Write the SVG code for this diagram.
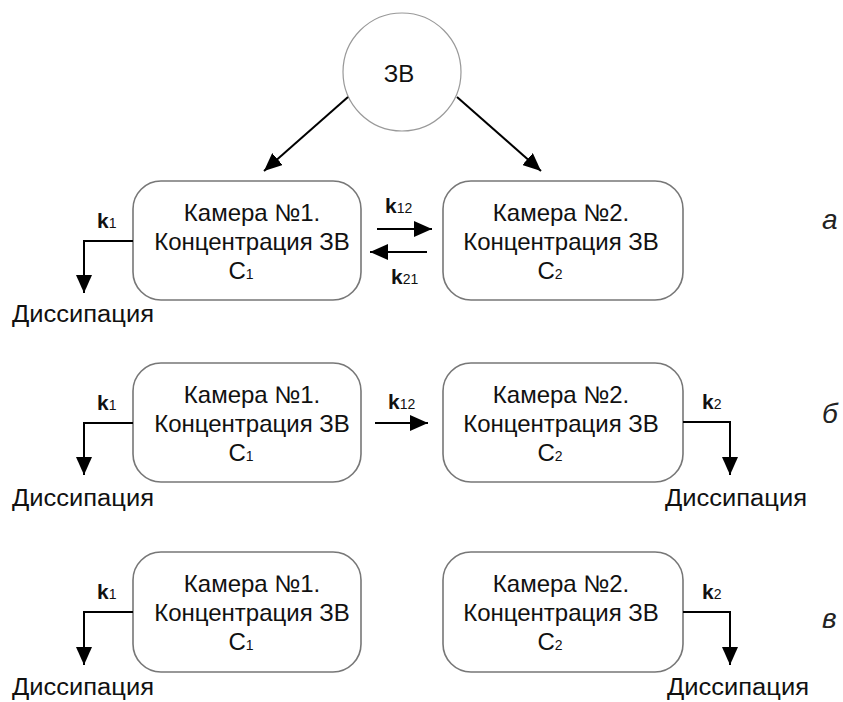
<svg xmlns="http://www.w3.org/2000/svg" width="843" height="702" viewBox="0 0 843 702">
<defs>
<marker id="ah" viewBox="0 0 18 16" refX="18" refY="8" markerWidth="18" markerHeight="16" markerUnits="userSpaceOnUse" orient="auto"><path d="M0,0 L18,8 L0,16 z" fill="#000"/></marker>
</defs>
<style>
.box{fill:#fff;stroke:#777;stroke-width:1.6}
.circ{fill:#fff;stroke:#999;stroke-width:1.2}
.t{font-family:"Liberation Sans",Arial,sans-serif;font-size:24px;fill:#111;text-anchor:middle}
.k{font-family:"Liberation Sans",Arial,sans-serif;font-size:21px;font-weight:bold;fill:#111}
.sub{font-size:14px;font-weight:normal}
.d{font-family:"Liberation Sans",Arial,sans-serif;font-size:23px;fill:#111}
.lab{font-family:"Liberation Sans",Arial,sans-serif;font-size:28px;font-style:italic;fill:#222}
.c{fill:none;stroke:#000;stroke-width:2;marker-end:url(#ah)}
</style>
<rect width="843" height="702" fill="#fff"/>
<g id="zv"><circle class="circ" cx="402" cy="72" r="59"/><text class="t" x="399" y="82" font-size="23">ЗВ</text></g>
<g id="a-cam1"><rect class="box" x="133" y="181" width="228" height="119" rx="28"/>
<text class="t" x="252" y="221">Камера №1.</text><text class="t" x="252" y="250">Концентрация ЗВ</text><text class="t" x="241" y="279">C<tspan class="sub" font-size="15">1</tspan></text></g>
<g id="a-cam2"><rect class="box" x="443" y="181" width="240" height="119" rx="28"/>
<text class="t" x="561" y="221">Камера №2.</text><text class="t" x="561" y="250">Концентрация ЗВ</text><text class="t" x="550" y="279">C<tspan class="sub" font-size="15">2</tspan></text></g>
<g id="b-cam1"><rect class="box" x="133" y="363" width="228" height="119" rx="28"/>
<text class="t" x="252" y="403">Камера №1.</text><text class="t" x="252" y="432">Концентрация ЗВ</text><text class="t" x="241" y="461">C<tspan class="sub" font-size="15">1</tspan></text></g>
<g id="b-cam2"><rect class="box" x="443" y="363" width="240" height="119" rx="28"/>
<text class="t" x="561" y="403">Камера №2.</text><text class="t" x="561" y="432">Концентрация ЗВ</text><text class="t" x="550" y="461">C<tspan class="sub" font-size="15">2</tspan></text></g>
<g id="c-cam1"><rect class="box" x="133" y="552" width="228" height="120" rx="28"/>
<text class="t" x="252" y="592">Камера №1.</text><text class="t" x="252" y="621">Концентрация ЗВ</text><text class="t" x="241" y="650">C<tspan class="sub" font-size="15">1</tspan></text></g>
<g id="c-cam2"><rect class="box" x="443" y="552" width="240" height="120" rx="28"/>
<text class="t" x="561" y="592">Камера №2.</text><text class="t" x="561" y="621">Концентрация ЗВ</text><text class="t" x="550" y="650">C<tspan class="sub" font-size="15">2</tspan></text></g>
<g id="connectors">
<line class="c" x1="348" y1="97" x2="264" y2="171"/>
<line class="c" x1="457" y1="97" x2="541" y2="171"/>
<line class="c" x1="377" y1="229" x2="432" y2="229"/>
<line class="c" x1="427" y1="252" x2="370" y2="252"/>
<polyline class="c" points="133,241 84,241 84,293"/>
<line class="c" x1="375" y1="423" x2="428" y2="423"/>
<polyline class="c" points="133,423 84,423 84,475"/>
<polyline class="c" points="683,422 730,422 730,475"/>
<polyline class="c" points="133,612 84,612 84,665"/>
<polyline class="c" points="683,612 730,612 730,665"/>
</g>
<g id="labels">
<text class="k" x="385" y="213">k<tspan class="sub">12</tspan></text>
<text class="k" x="391" y="284">k<tspan class="sub">21</tspan></text>
<text class="k" x="97" y="228">k<tspan class="sub">1</tspan></text>
<text class="k" x="388" y="409">k<tspan class="sub">12</tspan></text>
<text class="k" x="97" y="410">k<tspan class="sub">1</tspan></text>
<text class="k" x="702" y="409">k<tspan class="sub">2</tspan></text>
<text class="k" x="97" y="599">k<tspan class="sub">1</tspan></text>
<text class="k" x="702" y="599">k<tspan class="sub">2</tspan></text>
<text class="d" x="12" y="322" textLength="142" lengthAdjust="spacingAndGlyphs">Диссипация</text>
<text class="d" x="12" y="506" textLength="142" lengthAdjust="spacingAndGlyphs">Диссипация</text>
<text class="d" x="665" y="506" textLength="142" lengthAdjust="spacingAndGlyphs">Диссипация</text>
<text class="d" x="12" y="695" textLength="142" lengthAdjust="spacingAndGlyphs">Диссипация</text>
<text class="d" x="667" y="695" textLength="142" lengthAdjust="spacingAndGlyphs">Диссипация</text>
<text class="lab" x="822" y="229">а</text>
<text class="lab" x="822" y="423">б</text>
<text class="lab" x="822" y="628">в</text>
</g>
</svg>
